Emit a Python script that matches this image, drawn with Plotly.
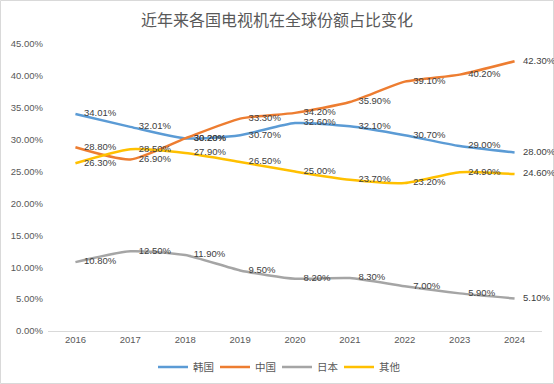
import plotly.graph_objects as go

years = ["2016", "2017", "2018", "2019", "2020", "2021", "2022", "2023", "2024"]
korea = [34.01, 32.01, 30.20, 30.70, 32.60, 32.10, 30.70, 29.00, 28.00]
china = [28.80, 26.90, 30.20, 33.30, 34.20, 35.90, 39.10, 40.20, 42.30]
japan = [10.80, 12.50, 11.90, 9.50, 8.20, 8.30, 7.00, 5.90, 5.10]
other = [26.30, 28.50, 27.90, 26.50, 25.00, 23.70, 23.20, 24.90, 24.60]

names = ["韩国", "中国", "日本", "其他"]
colors = ["#5B9BD5", "#ED7D31", "#A5A5A5", "#FFC000"]
series = [korea, china, japan, other]

W, H = 554, 384
ml, mr, mt, mb = 48, 12, 44, 53

fig = go.Figure()
for name, col, vals in zip(names, colors, series):
    fig.add_trace(go.Scatter(
        x=years, y=vals, name=name, mode="lines",
        line=dict(color=col, width=2.5, shape="spline", smoothing=0.6),
        cliponaxis=False,
    ))
for name, col, vals in zip(names, colors, series):
    fig.add_trace(go.Scatter(
        x=years, y=vals, name=name, mode="markers+text", showlegend=False,
        marker=dict(size=12, opacity=0, color=col),
        text=[f"{v:.2f}%" for v in vals],
        textposition="middle right",
        textfont=dict(size=9.5, color="#404040", family="Liberation Sans"),
        cliponaxis=False,
    ))

fig.update_layout(
    width=W, height=H,
    margin=dict(l=ml, r=mr, t=mt, b=mb, autoexpand=False),
    paper_bgcolor="white", plot_bgcolor="white",
    title=dict(text="近年来各国电视机在全球份额占比变化", x=0.5, xanchor="center",
               xref="container",
               y=1 - 20 / H, yanchor="middle",
               font=dict(size=16, color="#595959", family="Noto Sans CJK SC")),
    xaxis=dict(type="category", showgrid=False, showline=True, linecolor="#D9D9D9",
               linewidth=1, ticks="", automargin=False,
               tickfont=dict(size=9.5, color="#595959", family="Liberation Sans"),
               range=[-0.5, 8.5]),
    yaxis=dict(range=[0, 45], dtick=5, tickformat=".2f", ticksuffix="%",
               showgrid=False, zeroline=False, showline=False, automargin=False,
               ticklabelstandoff=4,
               tickfont=dict(size=9.5, color="#595959", family="Liberation Sans")),
    legend=dict(orientation="h", xref="container", x=0.5, xanchor="center",
                y=-(367 - (H - mb)) / (H - mt - mb),
                yanchor="middle", font=dict(size=10.5, color="#595959", family="Noto Sans CJK SC"),
                itemwidth=30, tracegroupgap=0, entrywidth=17, entrywidthmode="pixels"),
    showlegend=True,
)

pw = W - ml - mr
ph = H - mt - mb
fig.add_shape(type="rect", xref="paper", yref="paper",
              x0=(0.5 - ml) / pw, x1=(W - 0.5 - ml) / pw,
              y0=-(mb - 0.5) / ph, y1=(H - 0.5 - mb) / ph,
              line=dict(color="#D9D9D9", width=1), fillcolor="rgba(0,0,0,0)", layer="below")

fig.write_html("out.html", config={"displayModeBar": False},
               post_script="document.body.style.margin='0';document.body.style.overflow='hidden';")
